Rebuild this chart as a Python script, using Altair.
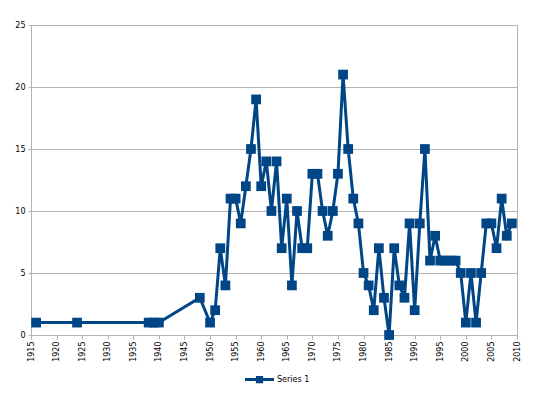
import altair as alt
import pandas as pd

years = [1916, 1924, 1938, 1939, 1940, 1948, 1950, 1951, 1952, 1953, 1954, 1955, 1956,
         1957, 1958, 1959, 1960, 1961, 1962, 1963, 1964, 1965, 1966, 1967, 1968,
         1969, 1970, 1971, 1972, 1973, 1974, 1975, 1976, 1977, 1978, 1979, 1980,
         1981, 1982, 1983, 1984, 1985, 1986, 1987, 1988, 1989, 1990, 1991, 1992,
         1993, 1994, 1995, 1996, 1997, 1998, 1999, 2000, 2001, 2002, 2003, 2004,
         2005, 2006, 2007, 2008, 2009]
values = [1, 1, 1, 1, 1, 3, 1, 2, 7, 4, 11, 11, 9,
          12, 15, 19, 12, 14, 10, 14, 7, 11, 4, 10, 7,
          7, 13, 13, 10, 8, 10, 13, 21, 15, 11, 9, 5,
          4, 2, 7, 3, 0, 7, 4, 3, 9, 2, 9, 15,
          6, 8, 6, 6, 6, 6, 5, 1, 5, 1, 5, 9,
          9, 7, 11, 8, 9]
series_name = "Series 1"
x_ticks = list(range(1915, 2011, 5))
y_ticks = [0, 5, 10, 15, 20, 25]

df = pd.DataFrame({"year": years, "value": values, "series": series_name})

COLOR = "#004586"
FONT = "DejaVu Sans"

x_enc = alt.X("year:Q", scale=alt.Scale(domain=[1915, 2010], nice=False, zero=False),
              axis=alt.Axis(values=x_ticks, labelAngle=-90, grid=False, title=None,
                            format="d", tickSize=4, labelPadding=2,
                            domainColor="#b3b3b3", tickColor="#b3b3b3",
                            labelFont=FONT, labelFontSize=8, labelColor="#000000"))
y_enc = alt.Y("value:Q", scale=alt.Scale(domain=[0, 25], nice=False),
              axis=alt.Axis(values=y_ticks, grid=True, gridColor="#b3b3b3", title=None,
                            tickSize=3, labelPadding=3,
                            domainColor="#b3b3b3", tickColor="#b3b3b3",
                            labelFont=FONT, labelFontSize=8, labelColor="#000000"))

base = alt.Chart(df)

line = base.mark_line(color=COLOR, strokeWidth=3).encode(x=x_enc, y=y_enc)

legend_path = ("M-1,-0.1 L1,-0.1 L1,0.1 L-1,0.1 Z "
               "M-0.25,-0.25 L0.25,-0.25 L0.25,0.25 L-0.25,0.25 Z")

points = base.mark_point(shape="square", filled=True, size=95, opacity=1).encode(
    x=x_enc, y=y_enc,
    color=alt.Color("series:N", scale=alt.Scale(range=[COLOR]),
                    legend=alt.Legend(title=None, orient="none", legendX=214, legendY=340,
                                      symbolType=legend_path, symbolSize=841,
                                      symbolFillColor=COLOR, symbolStrokeWidth=0,
                                      labelFont=FONT, labelFontSize=8, labelColor="#000000",
                                      labelOffset=3, padding=0)),
)

chart = alt.layer(line, points).properties(
    width=486, height=310,
    autosize=alt.AutoSizeParams(type="none"),
    padding={"left": 23, "top": 17, "right": 17, "bottom": 50},
    background="white",
).configure_view(stroke="#b3b3b3", strokeWidth=1)

chart.save("out.html", embed_options={"renderer": "svg", "actions": False})
